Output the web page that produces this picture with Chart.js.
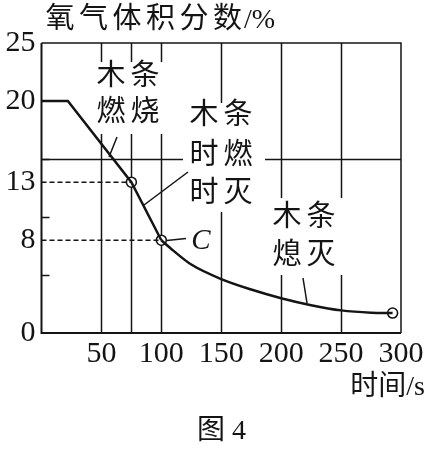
<!DOCTYPE html>
<html><head><meta charset="utf-8">
<script src="https://cdn.jsdelivr.net/npm/chart.js@4"></script>
<style>html,body{margin:0;padding:0;background:#fff}</style>
</head><body>
<canvas id="c" width="431" height="451"></canvas>
<script>
// ---- data ----
const timeLine = [0, 22, 75, 100];
const o2Line   = [20, 20, 13, 8];
const timeCurve = [100, 110, 125, 150, 175, 200, 225, 250, 275, 293];
const o2Curve   = [8, 7.1, 5.9, 4.65, 3.75, 3.0, 2.4, 1.95, 1.75, 1.72];
const markTime = [75, 100, 293];
const markO2   = [13, 8, 1.72];
const dashTime = [75, 100];
const dashO2   = [13, 8];
const xTicks = [50, 100, 150, 200, 250, 300];
const yTicks = [0, 8, 13, 20, 25];
const yMinor = [5, 10, 15];
const xGrid = [50, 75, 100, 150, 200, 250];
const yGrid = [15];
const yTitleCJK = '氧气体积分数';
const yTitleUnit = '/%';
const xTitle = '时间/s';
const caption = '图 4';
const labelBurn = ['木条', '燃烧'];
const labelFlicker = ['木条', '时燃', '时灭'];
const labelOut = ['木条', '熄灭'];
const labelC = 'C';

const INK = '#141414';
const SERIF = "'Liberation Serif','Noto Sans CJK SC',serif";
const CJK = "'Liberation Serif','Noto Sans CJK SC',sans-serif";

const pts = (xs, ys) => xs.map((v, i) => ({x: v, y: ys[i]}));

const decor = {
  id: 'decor',
  beforeDatasetsDraw(chart) {
    const {ctx, chartArea: a, scales: {x, y}} = chart;
    ctx.save();
    ctx.strokeStyle = INK;
    // grid lines
    ctx.lineWidth = 1.5;
    xGrid.forEach(v => {
      const px = Math.round(x.getPixelForValue(v)) + 0.5;
      ctx.beginPath(); ctx.moveTo(px, a.top); ctx.lineTo(px, a.bottom); ctx.stroke();
    });
    yGrid.forEach(v => {
      const py = Math.round(y.getPixelForValue(v)) + 0.5;
      ctx.beginPath(); ctx.moveTo(a.left, py); ctx.lineTo(a.right, py); ctx.stroke();
    });
    // minor ticks (inward)
    yMinor.forEach(v => {
      const py = Math.round(y.getPixelForValue(v)) + 0.5;
      ctx.beginPath(); ctx.moveTo(a.left, py); ctx.lineTo(a.left + 8, py); ctx.stroke();
    });
    // frame
    ctx.lineWidth = 1.5;
    ctx.beginPath();
    ctx.moveTo(a.left, a.top); ctx.lineTo(a.right, a.top); ctx.lineTo(a.right, a.bottom);
    ctx.stroke();
    ctx.lineWidth = 2;
    ctx.beginPath();
    ctx.moveTo(a.left, a.top); ctx.lineTo(a.left, a.bottom); ctx.lineTo(a.right, a.bottom);
    ctx.stroke();

    // white boxes behind annotation text
    ctx.fillStyle = '#fff';
    ctx.fillRect(92, 62, 74, 72);
    ctx.fillRect(183, 103, 82, 109);
    ctx.fillRect(266, 198, 80, 77);

    // annotation text
    ctx.fillStyle = INK;
    ctx.textAlign = 'center';
    ctx.textBaseline = 'middle';
    ctx.font = '29px ' + CJK;
    const drawLines = (lines, cx, ys) => {
      lines.forEach((ln, i) => {
        const chars = [...ln];
        chars.forEach((ch, j) => {
          const off = (j - (chars.length - 1) / 2) * 34;
          ctx.fillText(ch, cx + off, ys[i]);
        });
      });
    };
    drawLines(labelBurn, 128, [77, 113]);
    drawLines(labelFlicker, 221, [116, 156, 194]);
    drawLines(labelOut, 304, [218, 256]);
    ctx.font = 'italic 29px ' + SERIF;
    ctx.fillText(labelC, 201, 241);

    // pointer lines
    ctx.lineWidth = 1.5;
    const seg = (x1, y1, x2, y2) => { ctx.beginPath(); ctx.moveTo(x1, y1); ctx.lineTo(x2, y2); ctx.stroke(); };
    seg(117, 137, 109, 157);
    seg(144, 205, 188, 172);
    seg(162, 241, 186, 238.5);
    seg(303, 278, 307, 303);

    // y-axis title
    ctx.textBaseline = 'middle';
    ctx.textAlign = 'center';
    ctx.font = '29px ' + CJK;
    [...yTitleCJK].forEach((c, i) => ctx.fillText(c, 60 + i * 33.5, 20));
    ctx.textAlign = 'left';
    ctx.font = '28px ' + SERIF;
    ctx.fillText(yTitleUnit, 244, 21);
    // x-axis title and caption
    ctx.textAlign = 'right';
    ctx.font = '28px ' + CJK;
    ctx.fillText(xTitle, 425, 388);
    ctx.textAlign = 'left';
    ctx.fillText(caption, 197, 432);
    ctx.restore();
  }
};

new Chart(document.getElementById('c'), {
  type: 'scatter',
  data: {
    datasets: [
      {data: pts(timeLine, o2Line), showLine: true, borderColor: INK, borderWidth: 2.5, pointRadius: 0, tension: 0},
      {data: pts(timeCurve, o2Curve), showLine: true, borderColor: INK, borderWidth: 2.5, pointRadius: 0, cubicInterpolationMode: 'monotone'},
      {data: [{x: 0, y: dashO2[0]}, {x: dashTime[0], y: dashO2[0]}], showLine: true, borderColor: INK, borderWidth: 1.5, borderDash: [5, 3], pointRadius: 0},
      {data: [{x: 0, y: dashO2[1]}, {x: dashTime[1], y: dashO2[1]}], showLine: true, borderColor: INK, borderWidth: 1.5, borderDash: [5, 3], pointRadius: 0},
      {data: pts(markTime, markO2), showLine: false, pointRadius: 5, pointBackgroundColor: '#fff', pointBorderColor: INK, pointBorderWidth: 1.6}
    ]
  },
  options: {
    responsive: false,
    animation: false,
    events: [],
    layout: {padding: {top: 43, right: 30, left: 0, bottom: 0}},
    plugins: {legend: {display: false}, tooltip: {enabled: false}},
    scales: {
      x: {
        type: 'linear', min: 0, max: 300,
        grid: {display: false, drawTicks: false},
        border: {display: false},
        afterBuildTicks: s => { s.ticks = xTicks.map(v => ({value: v})); },
        afterFit: s => { s.height = 118; },
        ticks: {color: INK, font: {family: SERIF, size: 30}, padding: 3, maxRotation: 0, autoSkip: false}
      },
      y: {
        type: 'linear', min: 0, max: 25,
        grid: {display: false, drawTicks: false},
        border: {display: false},
        afterBuildTicks: s => { s.ticks = yTicks.map(v => ({value: v})); },
        afterFit: s => { s.width = 41.5; },
        ticks: {color: INK, font: {family: SERIF, size: 30}, padding: 6, autoSkip: false}
      }
    }
  },
  plugins: [decor]
});
</script>
</body></html>
